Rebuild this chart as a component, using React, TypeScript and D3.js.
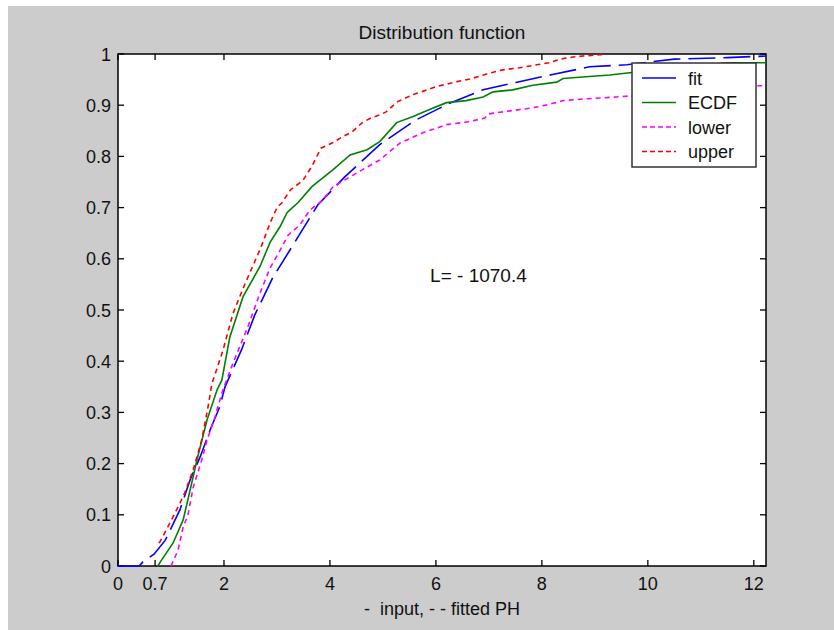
import * as d3 from "d3";

// x ticks (MATLAB style, with the extra 0.7 tick)
const xTicks = [0, 0.7, 2, 4, 6, 8, 10, 12];
const yTicks = [0, 0.1, 0.2, 0.3, 0.4, 0.5, 0.6, 0.7, 0.8, 0.9, 1];

// fitted PH distribution
const fitX = [0, 0.4, 0.47, 0.68, 0.89, 1.17, 1.36, 1.55, 1.74, 1.92, 2.02, 2.33, 2.58, 2.92, 3.34, 3.77, 4.28, 4.94, 5.6, 6.26, 6.89, 7.53, 8.2, 8.9, 9.6, 10.5, 11.5, 12.23];
const fitY = [0, 0, 0.008, 0.023, 0.05, 0.11, 0.168, 0.213, 0.266, 0.311, 0.35, 0.422, 0.49, 0.563, 0.633, 0.705, 0.76, 0.823, 0.87, 0.904, 0.93, 0.945, 0.96, 0.975, 0.979, 0.99, 0.993, 0.996];

// empirical cdf of the input
const ecdfX = [0.75, 0.8, 1.04, 1.23, 1.36, 1.49, 1.68, 1.87, 1.96, 2.11, 2.36, 2.68, 2.87, 3.06, 3.19, 3.25, 3.4, 3.66, 4.06, 4.38, 4.7, 4.94, 5.26, 5.57, 5.89, 6.2, 6.57, 6.89, 7.08, 7.45, 7.83, 8.28, 8.4, 8.77, 9.28, 9.53, 10.4, 11.5, 12.23];
const ecdfY = [0, 0.008, 0.045, 0.09, 0.148, 0.207, 0.285, 0.344, 0.363, 0.447, 0.526, 0.585, 0.632, 0.663, 0.69, 0.696, 0.71, 0.741, 0.774, 0.803, 0.813, 0.829, 0.866, 0.878, 0.892, 0.905, 0.909, 0.916, 0.926, 0.93, 0.939, 0.945, 0.952, 0.955, 0.959, 0.962, 0.972, 0.983, 0.983];

// confidence band
const lowerX = [1.0, 1.13, 1.23, 1.32, 1.42, 1.58, 1.68, 1.83, 1.98, 2.17, 2.45, 2.68, 2.87, 3.06, 3.21, 3.43, 3.62, 3.87, 4.06, 4.51, 4.94, 5.32, 5.75, 6.2, 6.64, 6.92, 7.0, 7.26, 7.7, 7.94, 8.26, 8.4, 8.77, 9.09, 9.4, 9.66, 11.0, 12.04, 12.23];
const lowerY = [0, 0.03, 0.076, 0.1, 0.154, 0.207, 0.246, 0.291, 0.344, 0.396, 0.467, 0.533, 0.582, 0.617, 0.646, 0.666, 0.695, 0.715, 0.741, 0.768, 0.793, 0.826, 0.846, 0.862, 0.868, 0.875, 0.883, 0.887, 0.893, 0.897, 0.905, 0.909, 0.912, 0.914, 0.916, 0.918, 0.93, 0.938, 0.938];

const upperX = [0.77, 0.79, 0.98, 1.17, 1.26, 1.42, 1.58, 1.7, 1.77, 1.98, 2.17, 2.36, 2.51, 2.7, 2.87, 3.0, 3.09, 3.25, 3.49, 3.66, 3.83, 4.04, 4.23, 4.42, 4.6, 4.77, 4.94, 5.06, 5.28, 5.57, 5.75, 6.0, 6.4, 6.64, 6.96, 7.26, 7.58, 7.9, 8.15, 8.34, 8.58, 8.77, 9.03, 9.2];
const upperY = [0.045, 0.047, 0.084, 0.123, 0.143, 0.188, 0.246, 0.311, 0.355, 0.421, 0.493, 0.542, 0.578, 0.623, 0.67, 0.7, 0.709, 0.734, 0.753, 0.781, 0.816, 0.826, 0.838, 0.848, 0.865, 0.875, 0.881, 0.887, 0.907, 0.921, 0.927, 0.936, 0.946, 0.951, 0.961, 0.969, 0.973, 0.979, 0.983, 0.99, 0.994, 0.996, 0.998, 1.0];

const legendNames = ["fit", "ECDF", "lower", "upper"];

const font = "'Liberation Sans', Arial, Helvetica, sans-serif";

export default function App() {
  const width = 834;
  const height = 630;
  const plot = { left: 118, right: 766, top: 54, bottom: 566 };

  const x = d3.scaleLinear().domain([0, 12.23]).range([plot.left, plot.right]);
  const y = d3.scaleLinear().domain([0, 1]).range([plot.bottom, plot.top]);

  const path = (xs: number[], ys: number[]) =>
    d3
      .line<number>()
      .x((d) => x(d))
      .y((_, i) => y(ys[i]))(xs) || "";

  const series = [
    { name: "fit", d: path(fitX, fitY), color: "#0000ff", dash: "27,8", legendDash: "none" },
    { name: "ECDF", d: path(ecdfX, ecdfY), color: "#008000", dash: "none", legendDash: "none" },
    { name: "lower", d: path(lowerX, lowerY), color: "#ff00ff", dash: "5,4", legendDash: "5,3" },
    { name: "upper", d: path(upperX, upperY), color: "#ff0000", dash: "5,4", legendDash: "5,3" },
  ];

  const tick = 6;
  const leg = { x: 632, y: 63, w: 124, h: 104 };

  return (
    <svg
      width={width}
      height={height}
      style={{ position: "absolute", left: 0, top: 0, fontFamily: font }}
    >
      <rect x={0} y={0} width={width} height={height} fill="#ffffff" />
      <rect x={8} y={6} width={width - 8} height={height - 6} fill="#cccccc" />
      <defs>
        <clipPath id="plotclip">
          <rect x={plot.left} y={plot.top - 2} width={plot.right - plot.left + 1} height={plot.bottom - plot.top + 4} />
        </clipPath>
      </defs>
      <rect
        x={plot.left}
        y={plot.top}
        width={plot.right - plot.left}
        height={plot.bottom - plot.top}
        fill="#ffffff"
      />

      {/* ticks, all four sides */}
      <g stroke="#000" strokeWidth={1.3}>
        {xTicks.map((t) => (
          <g key={"x" + t}>
            <line x1={x(t)} x2={x(t)} y1={plot.bottom} y2={plot.bottom - tick} />
            <line x1={x(t)} x2={x(t)} y1={plot.top} y2={plot.top + tick} />
          </g>
        ))}
        {yTicks.map((t) => (
          <g key={"y" + t}>
            <line x1={plot.left} x2={plot.left + tick} y1={y(t)} y2={y(t)} />
            <line x1={plot.right} x2={plot.right - tick} y1={y(t)} y2={y(t)} />
          </g>
        ))}
      </g>
      <rect
        x={plot.left}
        y={plot.top}
        width={plot.right - plot.left}
        height={plot.bottom - plot.top}
        fill="none"
        stroke="#000"
        strokeWidth={1.5}
      />

      {/* data lines drawn over the box, as MATLAB does */}
      <g clipPath="url(#plotclip)">
        {series.map((s) => (
          <path
            key={s.name}
            d={s.d}
            fill="none"
            stroke={s.color}
            strokeWidth={1.6}
            strokeDasharray={s.dash}
          />
        ))}
      </g>

      {/* tick labels */}
      <g fontSize={18} fill="#111">
        {xTicks.map((t) => (
          <text key={"xl" + t} x={x(t)} y={590} textAnchor="middle">
            {String(t)}
          </text>
        ))}
        {yTicks.map((t) => (
          <text key={"yl" + t} x={plot.left - 7} y={y(t) + 6.5} textAnchor="end">
            {d3.format("~g")(t)}
          </text>
        ))}
      </g>

      <text x={(plot.left + plot.right) / 2} y={39} textAnchor="middle" fontSize={19} fill="#111">
        Distribution function
      </text>
      <text
        x={(plot.left + plot.right) / 2}
        y={615}
        textAnchor="middle"
        fontSize={18}
        fill="#111"
        style={{ whiteSpace: "pre" }}
      >
        {"-  input, - - fitted PH"}
      </text>
      <text x={x(5.89)} y={y(0.568) + 7} fontSize={19} fill="#111">
        L= - 1070.4
      </text>

      {/* legend */}
      <rect x={leg.x} y={leg.y} width={leg.w} height={leg.h} fill="#fff" stroke="#333" strokeWidth={1.5} />
      {series.map((s, i) => {
        const cy = leg.y + 15 + i * 24.5;
        return (
          <g key={"lg" + s.name}>
            <line
              x1={leg.x + 10}
              x2={leg.x + 44}
              y1={cy}
              y2={cy}
              stroke={s.color}
              strokeWidth={1.5}
              strokeDasharray={s.legendDash}
            />
            <text x={leg.x + 56} y={cy + 6.5} fontSize={18} fill="#111">
              {legendNames[i]}
            </text>
          </g>
        );
      })}
    </svg>
  );
}
